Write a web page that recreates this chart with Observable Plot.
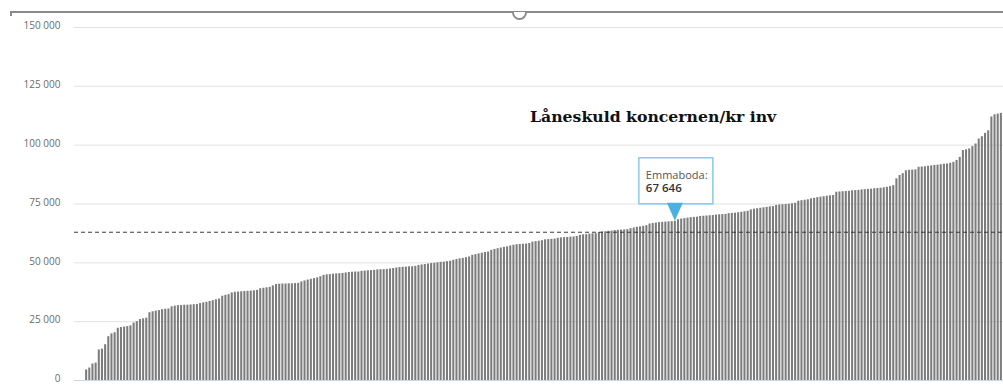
<!DOCTYPE html>
<html><head><meta charset="utf-8">
<script src="https://cdn.jsdelivr.net/npm/d3@7"></script>
<script src="https://cdn.jsdelivr.net/npm/@observablehq/plot@0.6"></script>
<style>
body{margin:0;background:#fff;}
#wrap{position:relative;width:1003px;height:385px;overflow:hidden;background:#fff;}
#wrap svg{position:absolute;left:0;top:0;}
#frameTop{position:absolute;left:10px;right:0;top:11px;height:0;border-top:2px solid #8a8a8a;z-index:2;}
#frameLeft{position:absolute;left:10px;top:11px;width:0;height:5px;border-left:2px solid #8a8a8a;z-index:2;}
#handle{position:absolute;left:512px;top:12px;width:11px;height:6px;border:2px solid #8a8a8a;border-top:none;border-radius:0 0 8px 8px;background:#fff;z-index:3;}
#title{position:absolute;left:530px;top:107px;font:bold 15.7px "DejaVu Serif",serif;color:#111;white-space:nowrap;z-index:2;}
</style></head><body>
<div id="wrap"><div id="frameTop"></div><div id="frameLeft"></div><div id="handle"></div><div id="title"></div></div>
<script>
// Låneskuld koncernen per invånare, kommuner sorterade stigande
const values = [
4500,5300,7000,7400,13000,13300,15200,18600,19800,20300,
22200,22500,22700,22900,23200,24400,25000,25900,26200,26500,
28800,29200,29500,29700,30100,30300,30400,31300,31600,31800,
31900,32000,32000,32100,32200,32300,32700,33000,33200,33600,
33900,34300,34600,35800,36200,36500,37200,37500,37600,37700,
37800,37900,38000,38100,38300,39000,39200,39400,39600,40200,
40800,40900,41000,41000,41100,41100,41200,41300,41900,42300,
42700,43000,43300,43600,44100,44700,44900,45000,45200,45300,
45400,45500,45700,45900,46000,46100,46100,46400,46500,46600,
46700,46800,47000,47100,47100,47200,47400,47600,47800,48000,
48100,48200,48300,48300,48500,48900,49100,49300,49500,49700,
49800,50000,50200,50300,50500,50700,51100,51400,51700,51900,
52200,52500,53200,53500,53800,54100,54400,54600,55300,55700,
56000,56300,56600,56800,57200,57500,57700,57800,57900,58000,
58200,58800,59000,59200,59400,59800,59900,60000,60100,60400,
60600,60700,60800,60900,61000,61200,61700,61900,62000,62200,
62300,62400,62900,63100,63200,63400,63500,63700,63800,63900,
64000,64100,64500,64800,65100,65300,65500,65800,66500,66700,
66900,67100,67200,67300,67400,67500,67646,68300,68600,68800,
69000,69200,69300,69400,69700,69800,69900,70000,70100,70300,
70400,70500,70600,70900,71000,71100,71300,71500,71700,71900,
72500,72800,73000,73200,73400,73600,73800,73900,74400,74600,
74700,74800,74900,75100,75300,76200,76400,76600,76800,77200,
77400,77700,77900,78100,78300,78500,78600,80000,80100,80200,
80300,80400,80600,80700,80800,81000,81100,81200,81300,81500,
81600,81700,81900,82100,82400,82800,85700,87100,87900,89100,
89300,89400,89500,90600,90700,90800,91000,91200,91400,91500,
91700,91900,92000,92300,92700,93500,94800,97700,98000,98400,
99400,100500,102600,103600,105000,106100,112000,112900,113200,113500
];
const highlightIndex = 186;
const highlightName = "Emmaboda";
const averageValue = 63000;
const yTicks = [0, 25000, 50000, 75000, 100000, 125000, 150000];
const titleText = "Låneskuld koncernen/kr inv";

const data = values.map((v, i) => ({i, v}));
const fmt = v => d3.format(",")(v).replace(/,/g, "\u00a0");

function tooltipMark(index, scales, vals, dimensions, context) {
  const d = data[highlightIndex];
  const bw = scales.x.bandwidth ? scales.x.bandwidth() : 0;
  const cx = scales.x(d.i) + bw / 2;
  const cy = scales.y(d.v);
  const g = d3.create("svg:g");
  const boxW = 74, boxH = 46, arrowH = 17;
  const bx = cx - 36, by = cy - arrowH - boxH;
  g.append("rect").attr("x", bx + 1).attr("y", by + 1).attr("width", boxW).attr("height", boxH)
    .attr("fill", "#000").attr("opacity", 0.07);
  g.append("rect").attr("x", bx).attr("y", by).attr("width", boxW).attr("height", boxH)
    .attr("fill", "#fff").attr("stroke", "#8ccbea").attr("stroke-width", 1.5);
  g.append("path").attr("d", `M${cx - 8},${cy - arrowH - 1}L${cx + 8},${cy - arrowH - 1}L${cx},${cy}Z`)
    .attr("fill", "#4cb0e2");
  g.append("text").attr("x", bx + 7).attr("y", by + 21).attr("text-anchor", "start")
    .style("fill", "#555").style("font-size", "11px").style("font-family", "Open Sans, sans-serif")
    .text(highlightName + ":");
  g.append("text").attr("x", bx + 7).attr("y", by + 34).attr("text-anchor", "start")
    .style("fill", "#333").style("font-weight", "600").style("font-size", "11.5px").style("font-family", "Open Sans, sans-serif")
    .text(fmt(d.v));
  return g.node();
}

const chart = Plot.plot({
  width: 1003,
  height: 385,
  marginLeft: 74,
  marginRight: 0,
  marginTop: 27,
  marginBottom: 5,
  style: {fontFamily: "Open Sans, sans-serif", fontSize: "10px", color: "#6c6c6c", background: "transparent"},
  x: {type: "band", domain: data.map(d => d.i), range: [84, 1003], padding: 0.35, axis: null},
  y: {domain: [0, 150000], axis: null},
  marks: [
    Plot.gridY(yTicks.filter(t => t > 0), {stroke: "#e2e2e2", strokeOpacity: 1}),
    Plot.barY(data, {x: "i", y: "v", fill: "#7c7c7c"}),
    Plot.ruleY([0], {stroke: "#cdd6e0"}),
    Plot.ruleY([averageValue], {stroke: "#3a3a3a", strokeDasharray: "4,3", strokeWidth: 1}),
    Plot.axisY(yTicks, {tickFormat: fmt, tickSize: 0, tickPadding: 14, fontSize: 10, label: null, dy: -1.5}),
    tooltipMark
  ]
});
document.getElementById("wrap").appendChild(chart);
document.getElementById("title").textContent = titleText;
</script>
</body></html>
